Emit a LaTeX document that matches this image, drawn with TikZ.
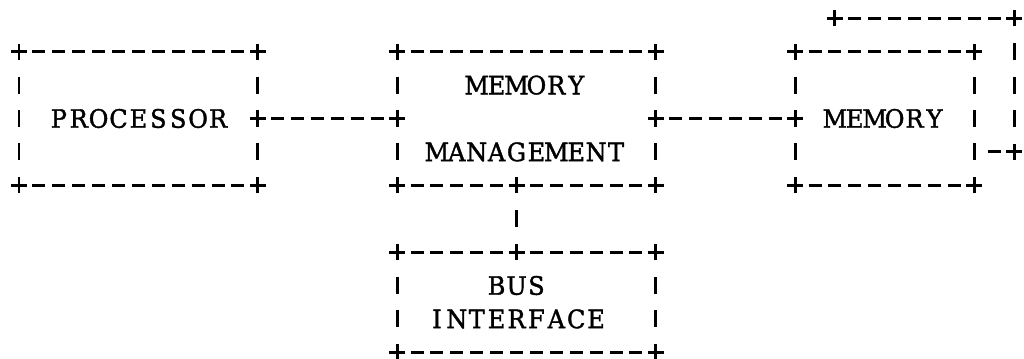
\documentclass[tikz,border=0pt]{standalone}
\usepackage{graphicx}
\usepackage{fontspec}
\usetikzlibrary{calc}

\newfontfamily\typefont{DejaVu Serif}[FakeBold=1.5]

% character grid of the typewriter layout
\newlength\colw \setlength\colw{14.925pt}
\newlength\rowh \setlength\rowh{25.05pt}

% set a word on the fixed character pitch
\makeatletter
\newcommand\pitched[1]{\@tfor\pch:=#1\do{\makebox[\colw][c]{\scalebox{0.95}[1]{\pch}}}}
\makeatother

\tikzset{
  asciibox/.style={rectangle, draw=none, inner sep=0pt, outer sep=0pt},
  lbl/.style={inner sep=0pt, outer sep=0pt},
  hdash/.style={line width=2.2pt, dash pattern=on 9.75pt off 5.175pt,
                shorten <=10.05pt, shorten >=10.05pt},
  vdash/.style={line width=2.2pt, dash pattern=on 12.75pt off 12.3pt,
                shorten <=18.675pt, shorten >=18.675pt},
  crossmark/.pic={\draw[line width=2.2pt] (-6pt,0) -- (6pt,0) (0,-6pt) -- (0,6pt);}
}

% dashed frame with plus signs at the corners
\newcommand\asciiframe[1]{%
  \draw[hdash] (#1.north west) -- (#1.north east);
  \draw[hdash] (#1.south west) -- (#1.south east);
  \draw[vdash] (#1.north west) -- (#1.south west);
  \draw[vdash] (#1.north east) -- (#1.south east);
  \foreach \k in {north west,north east,south west,south east}
    \pic at (#1.\k) {crossmark};
}

\begin{document}
\begin{tikzpicture}[x=\colw, y=-\rowh,
  every node/.append style={font=\fontsize{19}{23}\selectfont\typefont}]
  \fill[white] (-0.955,-0.548) rectangle (50.50,10.20);
  \useasboundingbox (-0.955,-0.548) rectangle (50.50,10.20);

  % boxes
  \node[asciibox, minimum width=12\colw, minimum height=4\rowh] (processor) at (6,3) {\pitched{PROCESSOR}};
  \node[asciibox, minimum width=13\colw, minimum height=4\rowh] (mmu) at (25.5,3) {};
  \node[asciibox, minimum width=9\colw, minimum height=4\rowh] (memory) at (43.5,3) {\pitched{MEMORY}};
  \node[asciibox, minimum width=13\colw, minimum height=3\rowh] (bus) at (25.5,8.5) {};

  \node[lbl] (mmu-top) at ($(mmu.center)+(0,-1)$) {\pitched{MEMORY}};
  \node[lbl] (mmu-bot) at ($(mmu.center)+(0,1)$) {\pitched{MANAGEMENT}};
  \node[lbl] (bus-top) at ($(bus.center)+(-0.5,-0.5)$) {\pitched{BUS}};
  \node[lbl] (bus-bot) at ($(bus.center)+(-0.5,0.5)$) {\pitched{INTERFACE}};

  \asciiframe{processor}
  \asciiframe{mmu}
  \asciiframe{memory}
  \asciiframe{bus}

  % processor -- memory management -- memory
  \draw[hdash] (processor.east) -- (mmu.west);
  \draw[hdash] (mmu.east) -- (memory.west);
  \foreach \p in {processor.east, mmu.west, mmu.east, memory.west}
    \pic at (\p) {crossmark};

  % memory management -- bus interface
  \coordinate (mmu-tap) at ($(mmu.south west)+(6,0)$);
  \coordinate (bus-tap) at ($(bus.north west)+(6,0)$);
  \draw[vdash] (mmu-tap) -- (bus-tap);
  \pic at (mmu-tap) {crossmark};
  \pic at (bus-tap) {crossmark};

  % loop on the memory
  \coordinate (loop-out) at ($(memory.east)+(0,1)$);
  \coordinate (loop-se) at ($(loop-out)+(2,0)$);
  \coordinate (loop-ne) at ($(loop-se)+(0,-4)$);
  \coordinate (loop-end) at ($(loop-ne)+(-9,0)$);
  \draw[hdash] (loop-out) -- (loop-se);
  \draw[vdash] (loop-se) -- (loop-ne);
  \draw[hdash] (loop-ne) -- (loop-end);
  \foreach \p in {loop-se, loop-ne, loop-end}
    \pic at (\p) {crossmark};
\end{tikzpicture}
\end{document}
